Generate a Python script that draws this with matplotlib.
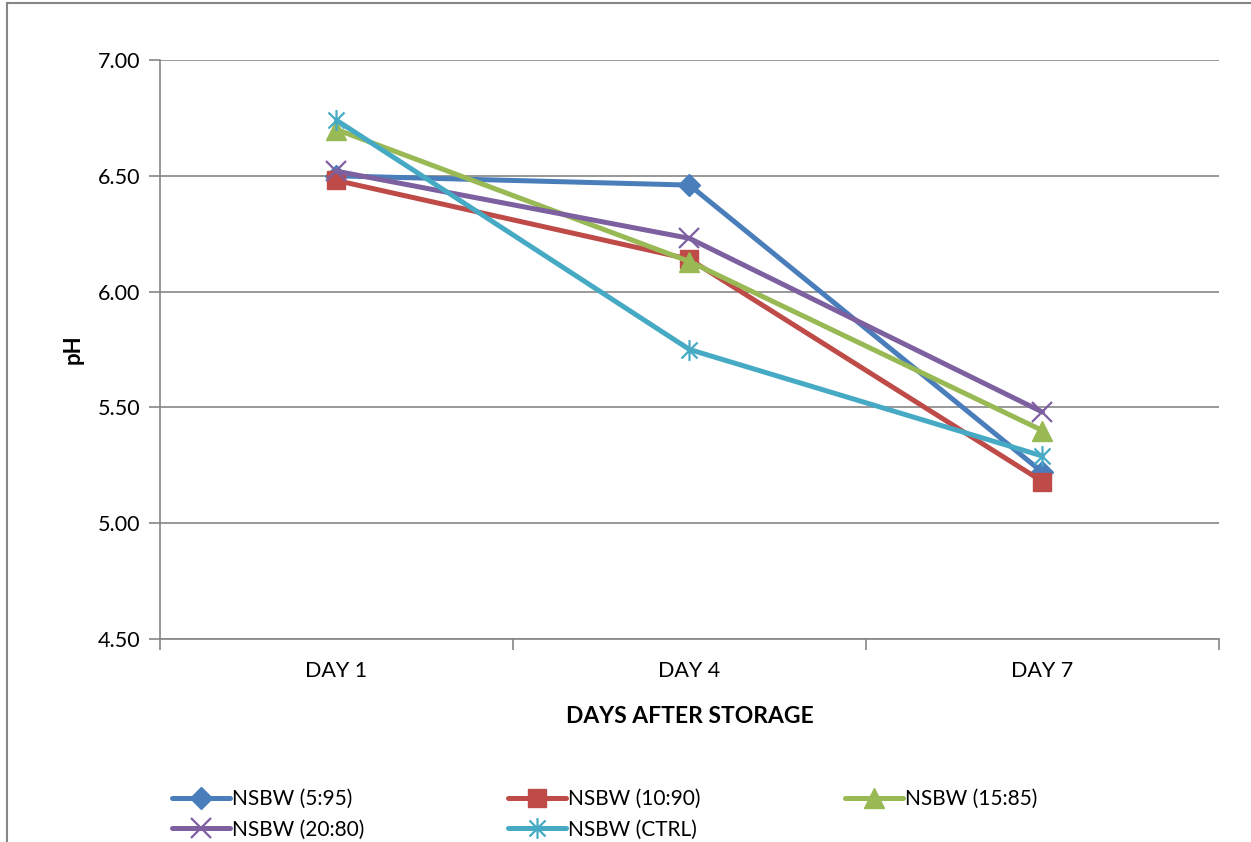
import matplotlib.pyplot as plt
import numpy as np
from matplotlib.path import Path

plt.rcParams['font.family'] = ['Lato', 'DejaVu Sans']

days = ['DAY 1', 'DAY 4', 'DAY 7']
labels = ['NSBW (5:95)', 'NSBW (10:90)', 'NSBW (15:85)', 'NSBW (20:80)', 'NSBW (CTRL)']
ph_5_95 = [6.50, 6.46, 5.22]
ph_10_90 = [6.48, 6.14, 5.18]
ph_15_85 = [6.70, 6.13, 5.40]
ph_20_80 = [6.52, 6.23, 5.48]
ph_ctrl = [6.74, 5.75, 5.29]
yticks = [4.5, 5.0, 5.5, 6.0, 6.5, 7.0]

# excel style asterisk: x plus vertical bar
star = Path([(-1, -1), (1, 1), (-1, 1), (1, -1), (0, -1.3), (0, 1.3)],
            [Path.MOVETO, Path.LINETO, Path.MOVETO, Path.LINETO, Path.MOVETO, Path.LINETO])

colors = ['#4A7EBB', '#BE4B48', '#98B954', '#7D60A0', '#46AAC5']
markers = ['D', 's', '^', 'x', star]
msizes = [11, 13, 14, 14, 15]

fig = plt.figure(figsize=(12.51, 8.42), dpi=100)
ax = fig.add_axes([0.1279, 0.2411, 0.8465, 0.6876])

x = np.arange(len(days))
handles = []
for ys, lab, c, m, ms in zip([ph_5_95, ph_10_90, ph_15_85, ph_20_80, ph_ctrl],
                             labels, colors, markers, msizes):
    h, = ax.plot(x, ys, color=c, lw=3.6, marker=m, markersize=ms,
                 markeredgecolor=c, markerfacecolor=c,
                 markeredgewidth=1.6 if (m == 'x' or m is star) else 1,
                 label=lab, solid_capstyle='round')
    handles.append(h)

ax.set_xlim(-0.5, 2.5)
ax.set_ylim(4.5, 7.0)
ax.set_yticks(yticks)
ax.set_yticklabels(['%.2f' % v for v in yticks])
ax.set_xticks(x)
ax.set_xticklabels(days)
ax.set_xticks([-0.5, 0.5, 1.5, 2.5], minor=True)
ax.tick_params(axis='x', which='major', length=0, labelsize=15.5, pad=16)
ax.tick_params(axis='x', which='minor', length=8, color='#868686', width=1.2)
ax.tick_params(axis='y', length=8, color='#868686', width=1.2, labelsize=15.5, pad=6)
ax.grid(axis='y', color='#868686', lw=1.2)
ax.set_axisbelow(True)
for s in ['top', 'right']:
    ax.spines[s].set_visible(False)
for s in ['left', 'bottom']:
    ax.spines[s].set_color('#868686')
    ax.spines[s].set_linewidth(1.2)

ax.set_ylabel('pH', fontsize=16, fontweight='bold', labelpad=10)
ax.set_xlabel('DAYS AFTER STORAGE', fontsize=16.5, fontweight='bold', labelpad=18)

order = [0, 3, 1, 4, 2]
ax.legend([handles[i] for i in order], [labels[i] for i in order], ncol=3,
          loc='upper left', bbox_to_anchor=(0.003, -0.245), frameon=False, fontsize=15,
          handlelength=2.8, handletextpad=0.1, columnspacing=6.9, labelspacing=0.5,
          borderaxespad=0)

# outer chart frame
fig.patches.append(plt.Rectangle((7 / 1251, -0.1), 1.2, 1.1 - 3 / 842, transform=fig.transFigure,
                                 fill=False, edgecolor='#868686', lw=1.5))

fig.savefig('out.png', dpi=100)
